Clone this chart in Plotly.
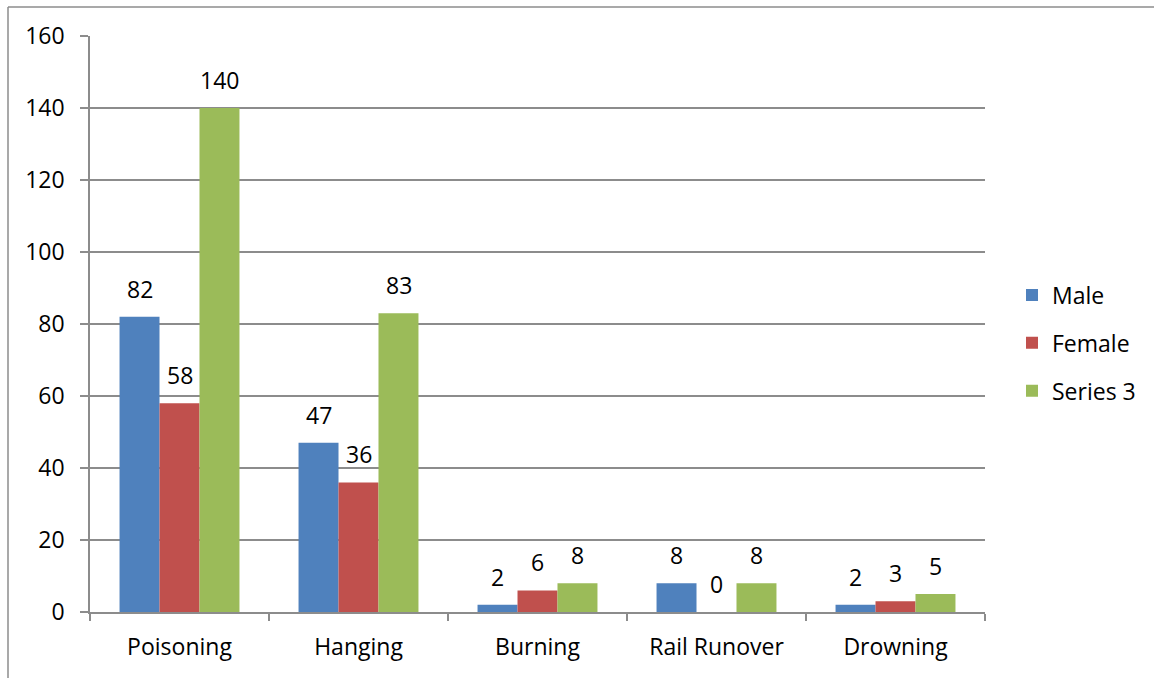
import plotly.graph_objects as go

categories = ["Poisoning", "Hanging", "Burning", "Rail Runover", "Drowning"]
male = [82, 47, 2, 8, 2]
female = [58, 36, 6, 0, 3]
series3 = [140, 83, 8, 8, 5]
y_ticks = [0, 20, 40, 60, 80, 100, 120, 140, 160]

series = [
    ("Male", male, "#4F81BD"),
    ("Female", female, "#C0504D"),
    ("Series 3", series3, "#9BBB59"),
]

FONT = "Open Sans"
FS = 23
GRID = "#8C8C8C"

fig = go.Figure()
for i, (name, vals, color) in enumerate(series):
    fig.add_trace(go.Bar(
        x=categories, y=vals, name=name,
        marker=dict(color=color, line=dict(width=0)),
        legendgroup=name,
    ))

# value labels above each bar
offsets = [-40, 0, 40]
annotations = []
for (name, vals, color), dx in zip(series, offsets):
    for cat, v in zip(categories, vals):
        annotations.append(dict(
            x=cat, y=v, xref="x", yref="y", text=str(v),
            showarrow=False, xshift=dx, yshift=28,
            font=dict(family=FONT, size=FS, color="#000000"),
        ))

# outer chart frame (top and left edges)
L, R, T, B = 90, 985, 36, 612
def px_to_paper_x(px):
    return (px - L) / (R - L)
def px_to_paper_y(py):
    return (B - py) / (B - T)

shapes = [
    dict(type="line", xref="paper", yref="paper",
         x0=px_to_paper_x(8), x1=px_to_paper_x(1160),
         y0=px_to_paper_y(7), y1=px_to_paper_y(7),
         line=dict(color="#8C8C8C", width=1.5)),
    dict(type="line", xref="paper", yref="paper",
         x0=px_to_paper_x(8), x1=px_to_paper_x(8),
         y0=px_to_paper_y(7), y1=px_to_paper_y(690),
         line=dict(color="#8C8C8C", width=1.5)),
]

fig.update_layout(
    width=1154, height=678,
    margin=dict(l=L, r=1154 - R, t=T, b=678 - B),
    paper_bgcolor="white", plot_bgcolor="white",
    barmode="group", bargap=0.33, bargroupgap=0,
    font=dict(family=FONT, size=FS, color="#000000"),
    showlegend=True,
    legend=dict(
        x=px_to_paper_x(1012), y=px_to_paper_y(343),
        xanchor="left", yanchor="middle",
        font=dict(family=FONT, size=FS, color="#000000"),
        tracegroupgap=15, itemwidth=30,
        bgcolor="rgba(0,0,0,0)",
    ),
    annotations=annotations,
    shapes=shapes,
    xaxis=dict(
        showline=True, linecolor=GRID, linewidth=1.5,
        ticks="outside", tickson="boundaries", ticklen=7,
        tickcolor=GRID, tickwidth=1.5,
        showgrid=False, ticklabelstandoff=14,
        tickfont=dict(family=FONT, size=FS),
    ),
    yaxis=dict(
        range=[0, 160], tickvals=y_ticks,
        showline=True, linecolor=GRID, linewidth=1.5,
        showgrid=True, gridcolor=GRID, gridwidth=1.5,
        ticks="outside", ticklen=8, tickcolor=GRID, tickwidth=1.5,
        ticklabelstandoff=11, zeroline=False,
        tickfont=dict(family=FONT, size=FS),
    ),
)

fig.write_html("out.html")
